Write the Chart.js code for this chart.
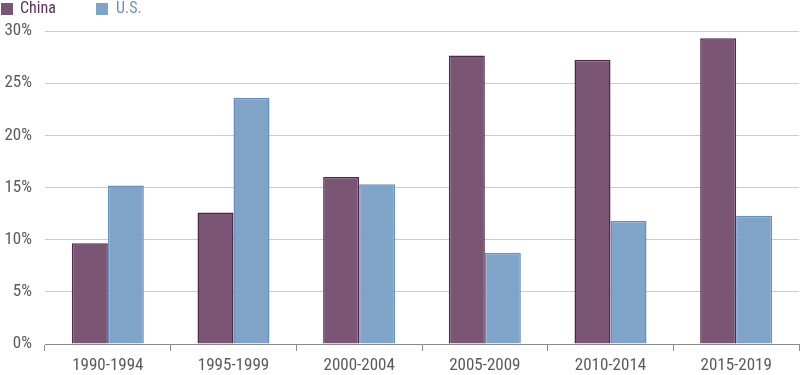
<!DOCTYPE html>
<html>
<head>
<meta charset="utf-8">
<script src="https://cdn.jsdelivr.net/npm/chart.js@4"></script>
<style>
html,body{margin:0;padding:0;background:#fff;}
#wrap{width:800px;height:375px;position:relative;}
</style>
</head>
<body>
<div id="wrap"><canvas id="c" width="800" height="375"></canvas></div>
<script>
const categories = ["1990-1994","1995-1999","2000-2004","2005-2009","2010-2014","2015-2019"];
const chinaValues = [9.65, 12.6, 16.0, 27.65, 27.25, 29.3];
const usValues = [15.2, 23.6, 15.3, 8.75, 11.8, 12.3];
const yTicks = [0, 5, 10, 15, 20, 25, 30];
const seriesNames = ["China", "U.S."];

const FONT = "'Roboto Condensed', 'Open Sans', sans-serif";
const chinaFill = "#7b5674", chinaBorder = "#4f2749", chinaText = "#5b2e56";
const usFill = "#80a4c8", usBorder = "#6690c0", usText = "#6a8fc0";

const legendPlugin = {
  id: 'topLegend',
  afterDraw(chart) {
    const ctx = chart.ctx;
    const items = [
      {box: 1, text: 20, fill: chinaFill, color: chinaText},
      {box: 96, text: 116, fill: usFill, color: usText}
    ];
    ctx.save();
    ctx.font = "16px " + FONT;
    ctx.textBaseline = 'middle';
    chart.data.datasets.forEach((ds, i) => {
      const it = items[i];
      ctx.fillStyle = it.fill;
      ctx.fillRect(it.box, 3, 12, 12);
      ctx.fillStyle = it.color;
      ctx.fillText(ds.label, it.text, 8.5);
    });
    ctx.restore();
  }
};

new Chart(document.getElementById('c'), {
  type: 'bar',
  data: {
    labels: categories,
    datasets: [
      {label: seriesNames[0], data: chinaValues, backgroundColor: chinaFill, borderColor: chinaBorder, borderWidth: 1.5, categoryPercentage: 0.573, barPercentage: 1.0},
      {label: seriesNames[1], data: usValues, backgroundColor: usFill, borderColor: usBorder, borderWidth: 1.5, categoryPercentage: 0.573, barPercentage: 1.0}
    ]
  },
  plugins: [legendPlugin],
  options: {
    responsive: false,
    animation: false,
    devicePixelRatio: 1,
    layout: {padding: {left: 0, right: 1, top: 31, bottom: 0}},
    plugins: {
      tooltip: {enabled: false},
      legend: {display: false}
    },
    scales: {
      x: {
        afterFit: (axis) => { axis.height = 31; },
        grid: {display: true, drawOnChartArea: false, drawTicks: true, tickLength: 7, color: '#8a8a8a', offset: true},
        border: {display: true, color: '#8a8a8a', width: 1},
        ticks: {font: {family: FONT, size: 17, lineHeight: 1.0}, color: '#5a5a5a', padding: 6}
      },
      y: {
        min: 0, max: 30,
        afterBuildTicks: (axis) => { axis.ticks = yTicks.map(v => ({value: v})); },
        afterFit: (axis) => { axis.width = 45; },
        grid: {color: '#cccccc', lineWidth: 1, drawTicks: false},
        border: {display: false},
        ticks: {font: {family: FONT, size: 17}, color: '#5a5a5a', padding: 13, callback: v => v + '%'}
      }
    }
  }
});
</script>
</body>
</html>
